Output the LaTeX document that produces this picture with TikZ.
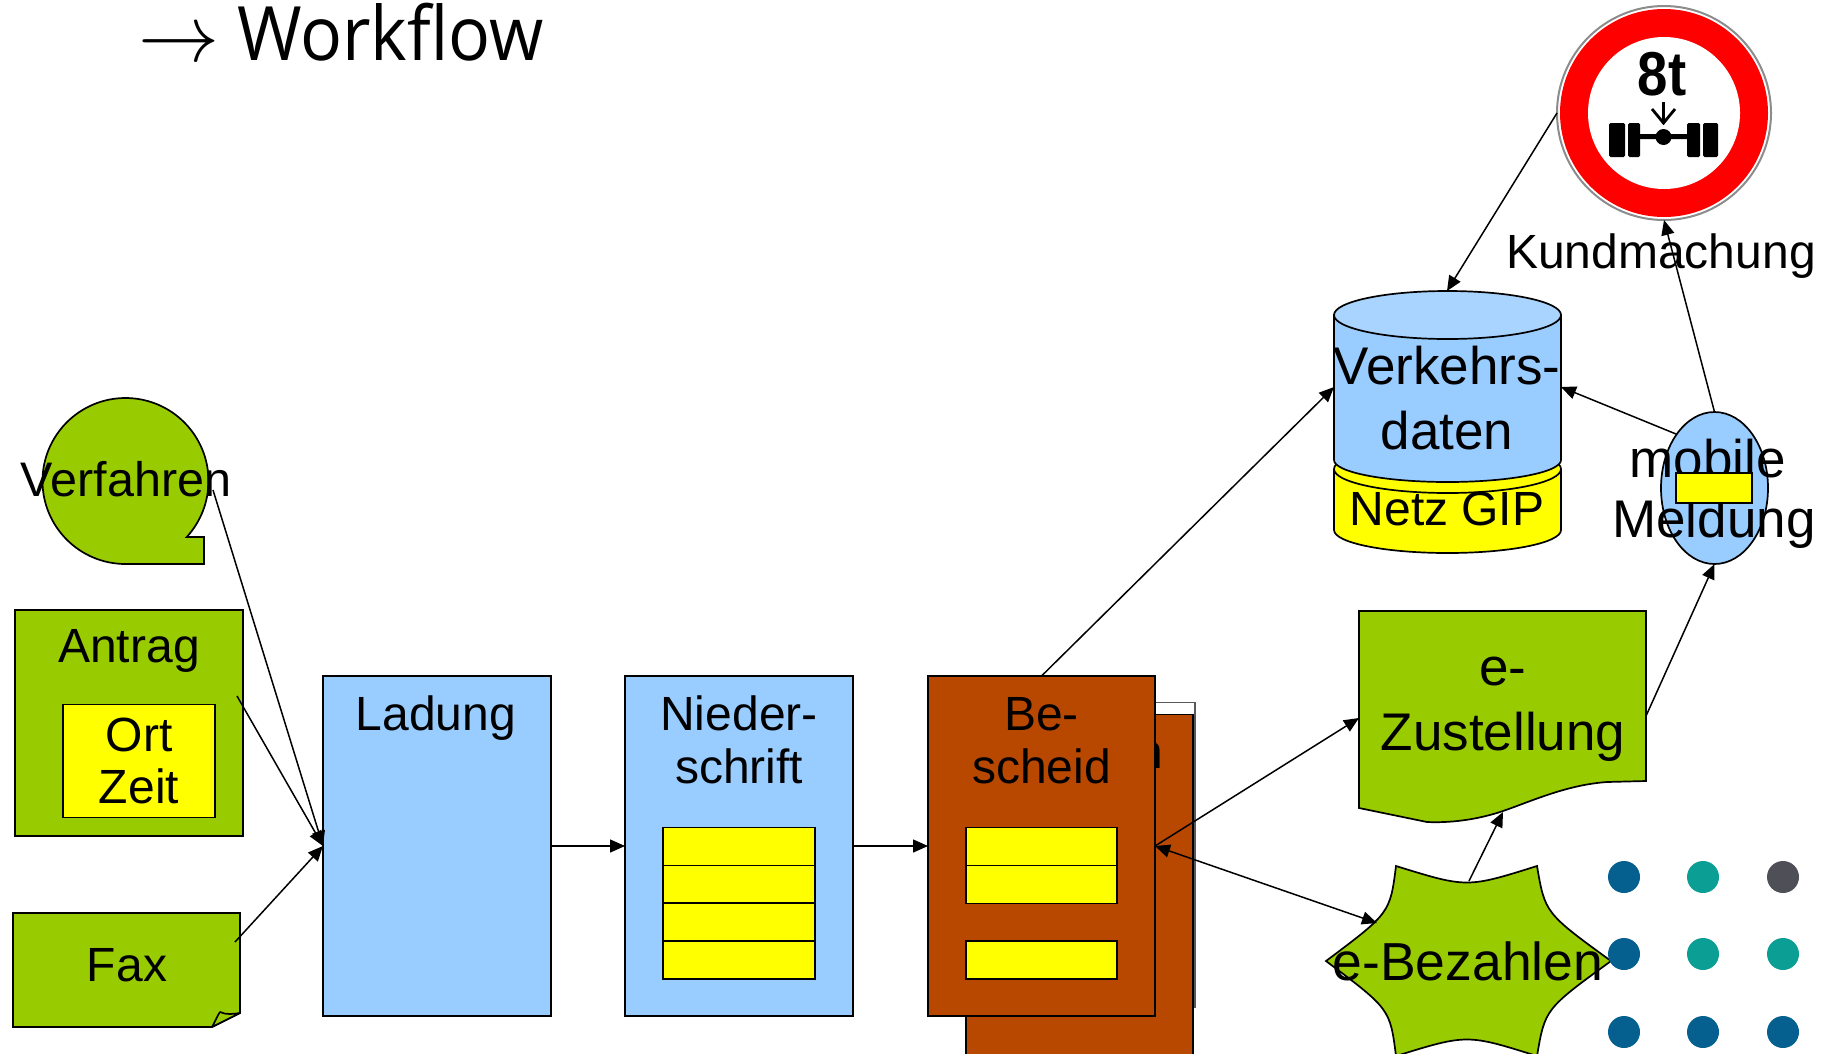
\documentclass[tikz,border=0pt]{standalone}
\usepackage{fontspec}
\setmainfont{Liberation Sans}
\newfontfamily\titlefont{Open Sans}
\usetikzlibrary{arrows.meta,shapes.geometric}
\definecolor{grn}{HTML}{99CC00}
\definecolor{blu}{HTML}{99CCFF}
\definecolor{blutop}{HTML}{A9D4FF}
\definecolor{yel}{HTML}{FFFF00}
\definecolor{brn}{HTML}{B84700}
\definecolor{dotblue}{HTML}{05608F}
\definecolor{dotteal}{HTML}{0A9E95}
\definecolor{dotgray}{HTML}{4F4F57}
\newcommand{\fsz}[1]{\fontsize{#1}{#1}\selectfont\setlength\baselineskip{1.26\baselineskip}}
\tikzset{
  x=1pt,y=-1pt,
  shp/.style={draw=black,line width=1.7pt,line join=miter},
  boxn/.style={shp,rectangle,inner sep=0pt,outer sep=0pt,minimum width=#1},
  lbl/.style={inner sep=0pt,outer sep=0pt,anchor=base,align=center,text=black,font=\fsz{#1}},
  conn/.style={draw=black,line width=1.5pt,-{Triangle[length=15pt,width=13pt]}},
  connb/.style={draw=black,line width=1.5pt,{Triangle[length=15pt,width=13pt]}-{Triangle[length=15pt,width=13pt]}},
  dotn/.style={circle,inner sep=0pt,minimum size=32pt,fill=#1},
  wheel/.style={fill=black,rounded corners=1.5pt},
}
\begin{document}
\begin{tikzpicture}
\useasboundingbox (0,0) rectangle (1834,1053);
\clip (0,0) rectangle (1834,1053);

% title
\node[lbl=10,anchor=base west] (title) at (138,60) {\raisebox{-1pt}{\scalebox{8.1}{$\rightarrow$}}\hspace{18pt}\scalebox{0.93}[1]{\titlefont\fontsize{75}{90}\selectfont Workflow}};

% left column
\path[shp,fill=grn] (125.5,564) arc[start angle=270,end angle=-42.5,radius=83pt] -- (204,537) -- (204,564) -- cycle;
\node[lbl=48.5] (verf) at (126,496) {Verfahren};
\coordinate (verfTail) at (213,490);

\node[boxn=228pt,fill=grn,minimum height=226pt] (antrag) at (129,723) {};
\node[lbl=48] (antragT) at (129,662) {Antrag};
\node[boxn=152pt,fill=yel,minimum height=113pt] (ortzeit) at (139,761) {};
\node[lbl=48] (ortT) at (139,803) {Ort\\[-9pt]Zeit};
\coordinate (antragTail) at (237,696);

\path[shp,fill=grn] (13,913) -- (240,913) -- (240,1013) -- (212,1027) -- (13,1027) -- cycle;
\path[shp,fill=grn,line join=round] (212,1027) .. controls (216,1020) and (217,1016) .. (220,1012) .. controls (226,1015) and (233,1014) .. (240,1013) -- cycle;
\node[lbl=48] (fax) at (127,981) {Fax};
\coordinate (faxTail) at (235,942);

% Ladung
\node[boxn=228pt,fill=blu,minimum height=340pt] (ladung) at (437,846) {};
\node[lbl=48] (ladungT) at (436,730) {Ladung};

% Niederschrift
\node[boxn=228pt,fill=blu,minimum height=340pt] (nieder) at (739,846) {};
\node[lbl=48] (niederT) at (739,783) {Nieder-\\[-8pt]schrift};
\node[boxn=152pt,fill=yel,minimum height=38pt] (n1) at (739,846.5) {};
\node[boxn=152pt,fill=yel,minimum height=38pt] (n2) at (739,884.5) {};
\node[boxn=152pt,fill=yel,minimum height=38pt] (n3) at (739,922) {};
\node[boxn=152pt,fill=yel,minimum height=38pt] (n4) at (739,960) {};

% back cards behind Bescheid
\node[rectangle,draw=black!65,line width=1.5pt,fill=white,minimum width=100pt,minimum height=305pt,inner sep=0pt] (backw) at (1145,855) {};
\node[boxn=227pt,fill=brn,minimum height=360pt] (backb) at (1079.5,894.5) {};
\node[lbl=48,anchor=base east] (backT) at (1163,768) {n};

% connectors under Bescheid
\coordinate (cylW) at (1334,387);
\coordinate (cylE) at (1561,387);
\coordinate (cylTop) at (1447,291);
\coordinate (zustL) at (1359,718);
\coordinate (zustR) at (1646,716);
\coordinate (zustB) at (1503,812);
\coordinate (starL) at (1377,923);
\coordinate (starT) at (1469,881);

% Bescheid
\node[boxn=227pt,fill=brn,minimum height=340pt] (besch) at (1041.5,846) {};
\node[lbl=48] (beschT) at (1041.5,783) {Be-\\[-8pt]scheid};
\node[boxn=151pt,fill=yel,minimum height=38pt] (b1) at (1041.5,846.5) {};
\node[boxn=151pt,fill=yel,minimum height=38pt] (b2) at (1041.5,884.5) {};
\node[boxn=151pt,fill=yel,minimum height=38pt] (b3) at (1041.5,960) {};

% cylinders
\path[fill=yel] (1334,469) -- (1334,530) arc[start angle=180,end angle=360,x radius=113.5pt,y radius=23pt] -- (1561,469) -- cycle;
\path[shp] (1334,469) -- (1334,530) arc[start angle=180,end angle=360,x radius=113.5pt,y radius=23pt] -- (1561,469);
\path[shp,fill=yel] (1447.5,469) circle[x radius=113.5pt,y radius=24pt];
\path[shp,fill=blu] (1334,315) -- (1334,460) arc[start angle=180,end angle=360,x radius=113.5pt,y radius=22pt] -- (1561,315) -- cycle;
\path[shp,fill=blutop] (1447.5,315) circle[x radius=113.5pt,y radius=24pt];
\node[lbl=53] (cylT) at (1447,449) {Verkehrs-\\[-2pt]daten};
\node[lbl=48] (netz) at (1447,525) {Netz GIP};

% mobile
\node[shp,ellipse,fill=blu,minimum width=107pt,minimum height=152pt,inner sep=0pt,outer sep=0pt] (mob) at (1714.5,488) {};
\node[lbl=53] (mobT) at (1714,537) {mobile\hspace*{13pt}\\[-7pt]Meldung};
\node[boxn=76pt,fill=yel,minimum height=30pt] (moby) at (1714,488) {};

% e-Zustellung
\path[shp,fill=grn] (1359,611) -- (1646,611) -- (1646,781) -- (1607,782) .. controls (1565,785) and (1530,802) .. (1500,812) .. controls (1475,820) and (1450,823) .. (1427,822) -- (1359,808) -- cycle;
\node[lbl=53] (zust) at (1503,750) {e-\\[-2pt]Zustellung};

% e-Bezahlen
\path[shp,fill=grn] (1396,866) .. controls (1467,888) .. (1537,866) .. controls (1545,913) .. (1611,961) .. controls (1545,1009) .. (1537,1056) .. controls (1467,1034) .. (1396,1056) .. controls (1390,1009) .. (1326,961) .. controls (1390,913) .. cycle;
\node[lbl=53.5] (bez) at (1468,980) {e-Bezahlen};

% sign
\node[circle,draw=black!45,line width=2pt,fill=white,minimum size=214pt,inner sep=0pt,outer sep=0pt] (sign) at (1664,113) {};
\node[circle,fill=red,minimum size=208pt,inner sep=0pt] (signr) at (1664,113) {};
\node[circle,fill=white,minimum size=152pt,inner sep=0pt] (signw) at (1664,113) {};
\node[lbl=62] (eight) at (1662,95) {\bfseries\scalebox{0.88}[1]{8t}};
\path[wheel] (1609,123) rectangle (1625,157);
\path[wheel] (1628,123) rectangle (1640,157);
\path[wheel] (1687,123) rectangle (1700,157);
\path[wheel] (1703,123) rectangle (1718,157);
\path[fill=black] (1640,134) -- (1655,134) -- (1672,134) -- (1687,134) -- (1687,139) -- (1672,139) -- (1655,139) -- (1640,139) -- cycle;
\path[fill=black] (1663.5,137) circle[radius=8pt];
\path[draw=black,line width=2.8pt] (1663.5,102) -- (1663.5,124);
\path[draw=black,line width=2.8pt] (1652,109) -- (1663.5,123) -- (1675,109);
\node[lbl=48] (kund) at (1661,268) {Kundmachung};

% dots
\node[dotn=dotblue] (d11) at (1624,877) {};
\node[dotn=dotteal] (d12) at (1703,877) {};
\node[dotn=dotgray] (d13) at (1783,877) {};
\node[dotn=dotblue] (d21) at (1624,954) {};
\node[dotn=dotteal] (d22) at (1703,954) {};
\node[dotn=dotteal] (d23) at (1783,954) {};
\node[dotn=dotblue] (d31) at (1624,1032) {};
\node[dotn=dotblue] (d32) at (1703,1032) {};
\node[dotn=dotblue] (d33) at (1783,1032) {};

% connectors
\draw[conn] (verfTail) -- (ladung.west);
\draw[conn] (antragTail) -- (ladung.west);
\draw[conn] (faxTail) -- (ladung.west);
\draw[conn] (ladung.east) -- (nieder.west);
\draw[conn] (nieder.east) -- (besch.west);
\draw[conn] (besch.north) -- (cylW);
\draw[conn] (besch.east) -- (zustL);
\draw[connb] (besch.east) -- (starL);
\draw[conn] (starT) -- (zustB);
\draw[conn] (zustR) -- (mob.south);
\draw[conn] (mob.north) -- (sign.south);
\coordinate (mobL) at (1676,434);
\draw[conn] (mobL) -- (cylE);
\draw[conn] (sign.west) -- (cylTop);
\end{tikzpicture}
\end{document}
